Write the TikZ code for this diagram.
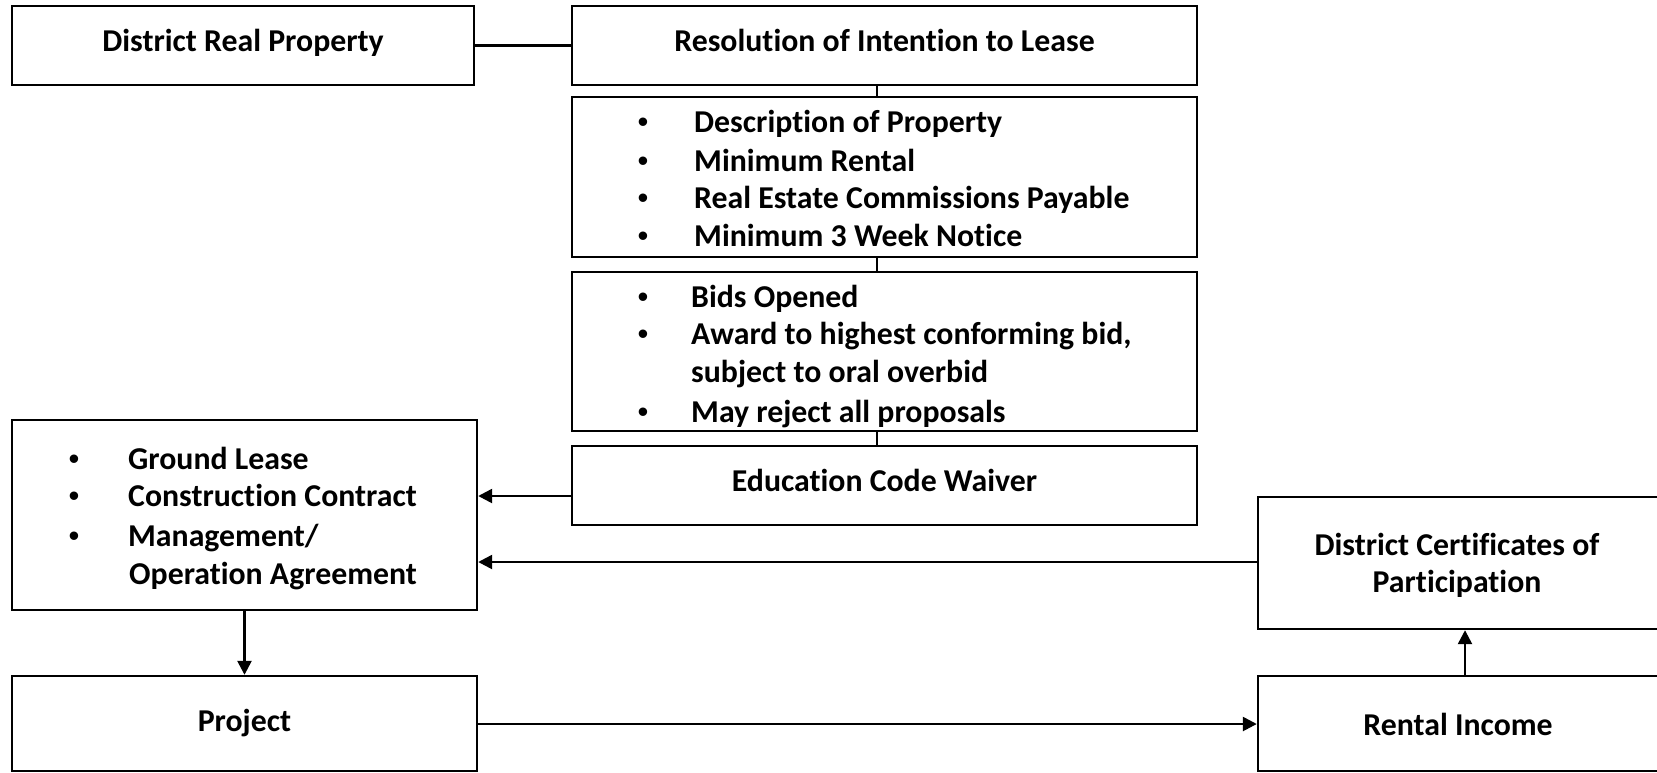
\documentclass[tikz,border=0pt]{standalone}
\usepackage{fontspec}
\setmainfont{Carlito}[Ligatures={NoCommon}]
\newfontfamily\bulfont{Liberation Sans}
\usetikzlibrary{arrows.meta}
\begin{document}
\begin{tikzpicture}[x=1pt,y=-1pt,
  box/.style={draw=black, line width=2.4pt, rectangle, inner sep=0pt},
  txt/.style={inner sep=0pt, font=\fontsize{31.8}{36}\selectfont\bfseries},
  ln/.style={txt, anchor=base west},
  bul/.style={inner sep=0pt, anchor=base, font=\bulfont\fontsize{31}{34}\selectfont},
  con/.style={line width=2.5pt},
  arr/.style={line width=2.5pt, -{Triangle[length=14pt,width=14pt]}}]
\useasboundingbox (0,0) rectangle (1657,772);
% boxes
\node[box, minimum width=462pt, minimum height=79pt] (drp) at (243,45.5) {};
\node[box, minimum width=625pt, minimum height=79pt] (res) at (884.5,45.5) {};
\node[box, minimum width=625pt, minimum height=160pt] (desc) at (884.5,177) {};
\node[box, minimum width=625pt, minimum height=159pt] (bids) at (884.5,351.5) {};
\node[box, minimum width=625pt, minimum height=79pt] (ecw) at (884.5,485.5) {};
\node[box, minimum width=465pt, minimum height=190pt] (agr) at (244.5,515) {};
\node[box, minimum width=465pt, minimum height=95pt] (proj) at (244.5,723.5) {};
\node[box, minimum width=400pt, minimum height=132pt] (cert) at (1458,563) {};
\node[box, minimum width=400pt, minimum height=95pt] (rent) at (1458,723.5) {};
% texts
\node[txt, anchor=base] (tdrp) at (243,51) {District Real Property};
\node[txt, anchor=base] (tres) at (884.5,51) {Resolution of Intention to Lease};
\node[bul] (b1) at (643,132) {•};
\node[ln] (l1) at (694,132) {Description of Property};
\node[bul] (b2) at (643,171) {•};
\node[ln] (l2) at (694,171) {Minimum Rental};
\node[bul] (b3) at (643,208) {•};
\node[ln] (l3) at (694,208) {Real Estate Commissions Payable};
\node[bul] (b4) at (643,246) {•};
\node[ln] (l4) at (694,246) {Minimum 3 Week Notice};
\node[bul] (c1) at (643,307) {•};
\node[ln] (m1) at (691,307) {Bids Opened};
\node[bul] (c2) at (643,344) {•};
\node[ln] (m2) at (691,344) {Award to highest conforming bid,};
\node[ln] (m3) at (691,382) {subject to oral overbid};
\node[bul] (c3) at (643,422) {•};
\node[ln] (m4) at (691,422) {May reject all proposals};
\node[txt, anchor=base] (tecw) at (884.5,491) {Education Code Waiver};
\node[bul] (d1) at (74,469) {•};
\node[ln] (n1) at (128,469) {Ground Lease};
\node[bul] (d2) at (74,506) {•};
\node[ln] (n2) at (128,506) {Construction Contract};
\node[bul] (d3) at (74,546) {•};
\node[ln] (n3) at (128,546) {Management/};
\node[ln] (n4) at (129,584) {Operation Agreement};
\node[txt, anchor=base] (tproj) at (244.5,731) {Project};
\node[txt, anchor=base] (tc1) at (1457,555) {District Certificates of};
\node[txt, anchor=base] (tc2) at (1457,592) {Participation};
\node[txt, anchor=base] (trent) at (1458,735) {Rental Income};
% connectors
\draw[con] (drp.east) -- (res.west);
\draw[con] (res.south -| 877,0) -- (desc.north -| 877,0);
\draw[con] (desc.south -| 877,0) -- (bids.north -| 877,0);
\draw[con] (bids.south -| 877,0) -- (ecw.north -| 877,0);
\draw[arr] (ecw.west |- 0,496) -- (agr.east |- 0,496);
\draw[arr] (cert.west |- 0,562) -- (agr.east |- 0,562);
\draw[arr] (agr.south) -- (proj.north);
\draw[arr] (proj.east |- 0,724) -- (rent.west |- 0,724);
\draw[arr] (rent.north -| 1465,0) -- (cert.south -| 1465,0);
\end{tikzpicture}
\end{document}
